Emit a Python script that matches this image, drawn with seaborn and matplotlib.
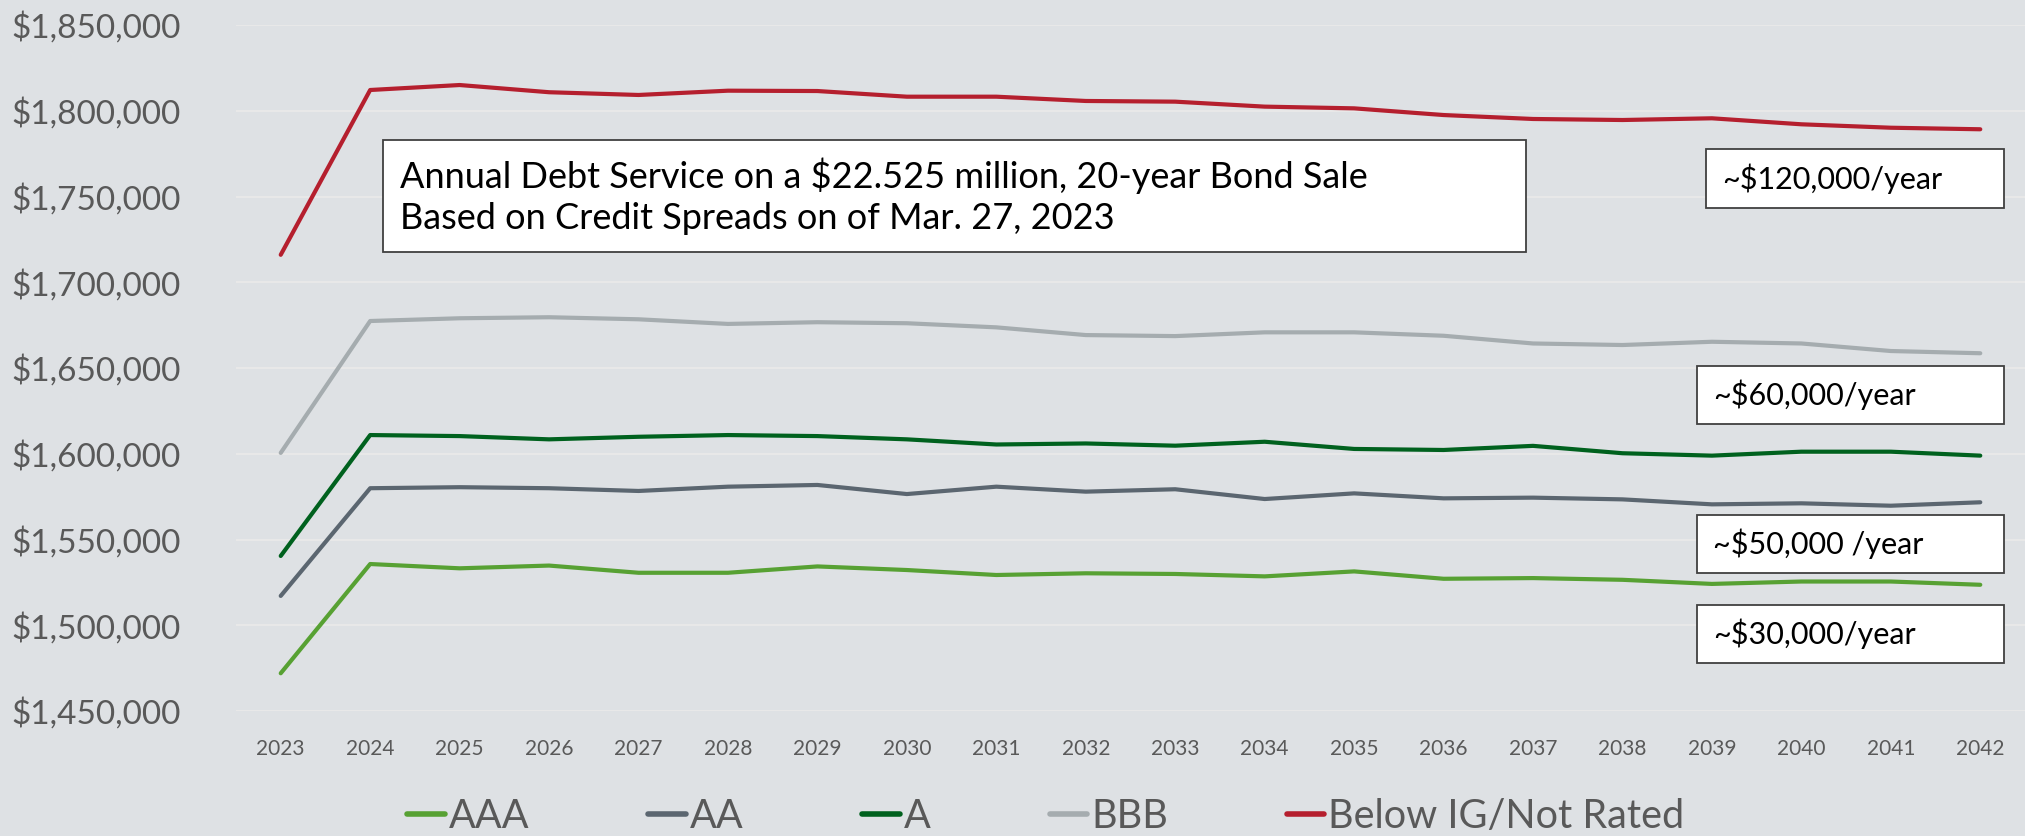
import matplotlib.pyplot as plt
import matplotlib.patches as mpatches
import matplotlib.ticker as mticker
import pandas as pd
import seaborn as sns

# Data
years = list(range(2023, 2043))
aaa = [1472000, 1535700, 1533200, 1534800, 1530600, 1530600, 1534300, 1532200, 1529300, 1530300,
       1529900, 1528500, 1531400, 1527100, 1527500, 1526500, 1524100, 1525500, 1525500, 1523600]
aa = [1517100, 1579900, 1580500, 1579900, 1578300, 1580800, 1581800, 1576500, 1580800, 1577900,
      1579300, 1573600, 1576900, 1574000, 1574400, 1573400, 1570500, 1571100, 1569700, 1571700]
a = [1540400, 1610900, 1610300, 1608400, 1609900, 1610900, 1610300, 1608400, 1605400, 1606000,
     1604700, 1607000, 1602800, 1602200, 1604600, 1600300, 1598900, 1601200, 1601200, 1598900]
bbb = [1600500, 1677400, 1679000, 1679600, 1678400, 1675700, 1676700, 1676100, 1673700, 1669200,
       1668600, 1670800, 1670800, 1668800, 1664300, 1663400, 1665300, 1664300, 1659900, 1658600]
below_ig = [1716000, 1812100, 1815000, 1810800, 1809200, 1811700, 1811500, 1808200, 1808200, 1805700,
            1805300, 1802400, 1801400, 1797500, 1795200, 1794600, 1795600, 1792100, 1790100, 1789200]

ratings = ["AAA", "AA", "A", "BBB", "Below IG/Not Rated"]
colors = ["#57A133", "#5B6670", "#00611E", "#A5ACAF", "#B51F2E"]
y_ticks = [1450000, 1500000, 1550000, 1600000, 1650000, 1700000, 1750000, 1800000, 1850000]

title_text = "Annual Debt Service on a $22.525 million, 20-year Bond Sale\nBased on Credit Spreads on of Mar. 27, 2023"
notes = ["~$120,000/year", "~$60,000/year", "~$50,000 /year", "~$30,000/year"]

# long-form frame for seaborn
df = pd.DataFrame({"year": years * 5,
                   "value": aaa + aa + a + bbb + below_ig,
                   "rating": [r for r in ratings for _ in years]})

bg = "#DEE1E4"
W, H = 2025, 836

sns.set_style("white")
plt.rcParams["font.family"] = ["Lato", "DejaVu Sans"]

fig = plt.figure(figsize=(W / 100, H / 100), dpi=100, facecolor=bg)
ax = fig.add_axes([236 / W, 1 - 711 / H, 1 - 236 / W, (711 - 25) / H])
ax.set_facecolor(bg)

sns.lineplot(data=df, x="year", y="value", hue="rating", hue_order=ratings,
             palette=dict(zip(ratings, colors)), linewidth=3, ax=ax)

ax.set_xlim(2022.5, 2042.5)
ax.set_ylim(1450000, 1850000)
ax.set_xticks(years)
ax.set_yticks(y_ticks)
ax.yaxis.set_major_formatter(mticker.StrMethodFormatter("${x:,.0f}"))
ax.tick_params(axis="y", length=0, pad=40, labelsize=24, labelcolor="#595959")
ax.tick_params(axis="x", length=0, pad=20, labelsize=15, labelcolor="#595959")
ax.grid(axis="y", color="#E8E8E8", linewidth=1.5)
ax.set_axisbelow(True)
for s in ax.spines.values():
    s.set_visible(False)
ax.set_xlabel("")
ax.set_ylabel("")

handles, labels = ax.get_legend_handles_labels()
ax.get_legend().remove()
for h in handles:
    h.set_linewidth(4)
    h.set_solid_capstyle("round")
fig.legend(handles, labels, loc="center", bbox_to_anchor=(1046 / W, 1 - 816 / H), ncol=5,
           frameon=False, fontsize=28.5, labelcolor="#595959", handlelength=0.95,
           handletextpad=0.1, columnspacing=3.0, borderpad=0)


def px_box(x0, y0, x1, y1):
    return mpatches.Rectangle((x0 / W, 1 - y1 / H), (x1 - x0) / W, (y1 - y0) / H,
                              transform=fig.transFigure, facecolor="white",
                              edgecolor="#404040", linewidth=1.3, zorder=5)


# title box
fig.add_artist(px_box(383, 140, 1526, 252))
fig.text(400 / W, 1 - 196 / H, title_text, fontsize=26, color="black", va="center",
         ha="left", linespacing=1.3, zorder=6)

# savings boxes
note_boxes = [(1706, 149, 2004, 208), (1697, 366, 2004, 424), (1697, 515, 2004, 573), (1697, 605, 2004, 663)]
note_x = [1722, 1713, 1713, 1713]
for txt, (x0, y0, x1, y1), tx in zip(notes, note_boxes, note_x):
    fig.add_artist(px_box(x0, y0, x1, y1))
    fig.text(tx / W, 1 - (y0 + y1) / 2 / H, txt, fontsize=22, color="black",
             va="center", ha="left", zorder=6)

fig.savefig("out.png", dpi=100, facecolor=bg)
